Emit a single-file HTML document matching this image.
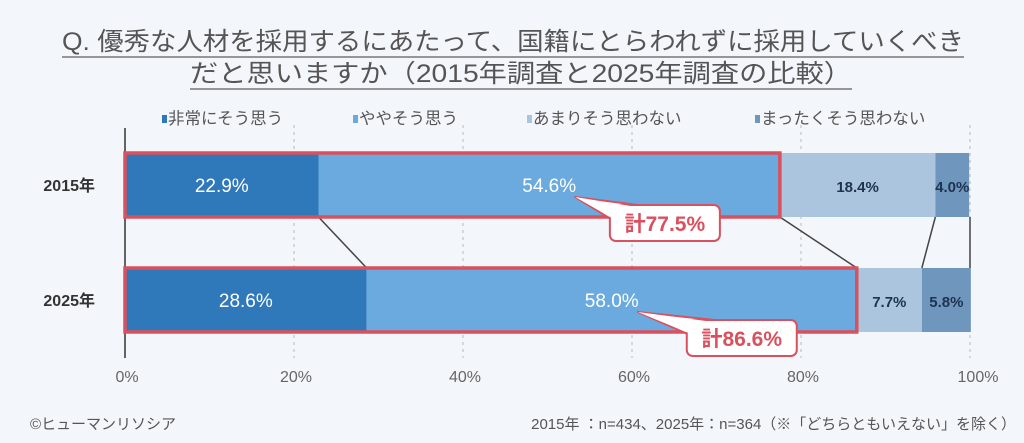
<!DOCTYPE html>
<html><head><meta charset="utf-8"><style>
body{margin:0;width:1024px;height:443px;background:#f3f6fa;overflow:hidden;font-family:"Liberation Sans","Noto Sans CJK JP",sans-serif}
svg{display:block}
</style></head><body>
<svg id="c" width="1024" height="443">
<text x="62" y="50" textLength="902" lengthAdjust="spacingAndGlyphs" font-size="25" fill="#555">Q. 優秀な人材を採用するにあたって、国籍にとらわれずに採用していくべき</text>
<line x1="62" y1="57" x2="964" y2="57" stroke="#777" stroke-width="1.5"/>
<text x="190" y="82" textLength="662" lengthAdjust="spacingAndGlyphs" font-size="25" fill="#555">だと思いますか（2015年調査と2025年調査の比較）</text>
<line x1="190" y1="89" x2="852" y2="89" stroke="#777" stroke-width="1.5"/>
<g id="legend"></g>
<g id="grid"></g><g id="bars"></g><g id="over"></g>
<text x="30" y="429" font-size="15" fill="#555">©ヒューマンリソシア</text>
<text x="1016" y="429" text-anchor="end" font-size="15" fill="#555">2015年 ：n=434、2025年：n=364（※「どちらともいえない」を除く）</text>
</svg>
<script>
const categories=["2015年","2025年"];
const seriesNames=["非常にそう思う","ややそう思う","あまりそう思わない","まったくそう思わない"];
const s1=[22.9,28.6];
const s2=[54.6,58.0];
const s3=[18.4,7.7];
const s4=[4.0,5.8];
const totals=["計77.5%","計86.6%"];
const ticks=[0,20,40,60,80,100];
const colors=["#2f78b9","#6aaadf","#aac5dd","#6f96bd"];
const textCol=["#fff","#fff","#1f3350","#1f3350"];
const NS="http://www.w3.org/2000/svg";
const X0=125,X1=970;
const x=v=>X0+(X1-X0)*v/100;
const rowY=[153,268],BH=64;
function mk(p,t,a){const e=document.createElementNS(NS,t);for(const k in a)e.setAttribute(k,a[k]);p.appendChild(e);return e;}
const grid=document.getElementById('grid'),bars=document.getElementById('bars'),over=document.getElementById('over'),leg=document.getElementById('legend');
ticks.forEach(t=>{
  if(t>0){const l=mk(grid,'line',{x1:x(t),x2:x(t),y1:125,y2:358,stroke:'#bbb','stroke-dasharray':'3,4'});
  
  }
  const tx=mk(grid,'text',{x:x(t)+(t===100?8:2),y:382,'text-anchor':'middle','font-size':16,fill:'#666'});
  tx.textContent=t+'%';
  
  
});
const ax=mk(grid,'line',{x1:X0,x2:X0,y1:128,y2:358,stroke:'#333','stroke-width':1.5});


const legX=[162,353,527,755];
seriesNames.forEach((n,i)=>{
  mk(leg,'rect',{x:legX[i],y:115,width:5,height:8,fill:colors[i]});
  const t=mk(leg,'text',{x:legX[i]+6,y:124,'font-size':16.5,fill:'#555'});t.textContent=n;
  
  
});
const series=[s1,s2,s3,s4];
categories.forEach((c,r)=>{
  const y=rowY[r];
  const lab=mk(bars,'text',{x:95,y:y+BH/2+6,'text-anchor':'end','font-size':16,'font-weight':'bold',fill:'#333'});
  lab.textContent=c;
  
  
  let acc=0;
  series.forEach((s,i)=>{
    const v=s[r];
    const b=mk(bars,'rect',{x:x(acc),y:y,width:x(acc+v)-x(acc),height:BH,fill:colors[i]});
    
    
    const t=mk(bars,'text',{x:(x(acc)+x(acc+v))/2,y:y+BH/2+7,'text-anchor':'middle','font-size':i<2?19:15,'font-weight':i<2?'normal':'bold',fill:textCol[i]});
    t.textContent=v.toFixed(1)+'%';
    
    
    acc+=v;
  });
  const tot=s1[r]+s2[r];
  const o=mk(over,'rect',{x:X0,y:y,width:x(tot)-X0,height:BH,fill:'none',stroke:'#d9505e','stroke-width':3.5});
  
  
  const bx=x(tot)-170,by=y+BH-12,bw=110,bh=36;
  const mx=(x(s1[r])+x(tot))/2;
  const tipx=mx+26,tipy=y+BH-20;
  mk(over,'path',{d:`M${bx+1},${by+14} L${tipx},${tipy} L${bx+28},${by} Z`,fill:'#fff',stroke:'#d9505e','stroke-width':2,'stroke-linejoin':'round'});
  const cb=mk(over,'rect',{x:bx,y:by,width:bw,height:bh,rx:6,fill:'#fff',stroke:'#d9505e','stroke-width':2});
  
  
  mk(over,'path',{d:`M${bx+2},${by+13} L${tipx},${tipy} L${bx+27},${by+2} L${bx+10},${by+12} Z`,fill:'#fff'});
  const ct=mk(over,'text',{x:bx+bw/2,y:by+26,'text-anchor':'middle','font-size':21,'font-weight':'bold',fill:'#d9505e'});
  ct.textContent=totals[r];
  
  
});
const cum=r=>[s1[r],s1[r]+s2[r],s1[r]+s2[r]+s3[r],100];
const a=cum(0),b=cum(1);
a.forEach((v,i)=>{
  const l=mk(bars,'line',{x1:x(v),y1:rowY[0]+BH,x2:x(b[i]),y2:rowY[1],stroke:'#444','stroke-width':1.5});
  
  
});
</script>
</body></html>
